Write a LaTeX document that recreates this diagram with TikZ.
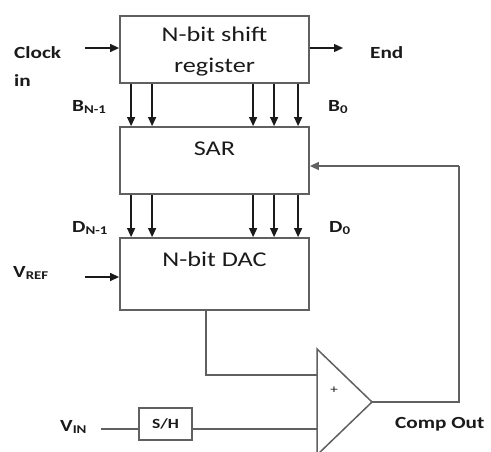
\documentclass[tikz,border=0pt]{standalone}
\usepackage{fontspec}
\setmainfont{Carlito}[FakeStretch=1.25]
\usetikzlibrary{arrows.meta,calc}
\definecolor{boxline}{HTML}{606060}
\definecolor{txt}{HTML}{1A1A1A}
\tikzset{
  blk/.style={draw=boxline,line width=1.8pt,rectangle,inner sep=0pt},
  arr/.style={draw=txt,line width=1.3pt,-{Triangle[length=9pt,width=8pt]}},
  wire/.style={draw=boxline,line width=1.8pt},
  boxtext/.style={font=\fontsize{21}{31}\selectfont,text=txt,align=center,inner sep=0pt},
  lbl/.style={font=\fontsize{17}{20}\selectfont\bfseries,text=txt,anchor=base west,inner sep=0pt},
}
\begin{document}
\begin{tikzpicture}[x=1pt,y=-1pt]
\useasboundingbox (0,0) rectangle (491,451);
\clip (0,0) rectangle (491,451);
% blocks
\node[blk,minimum width=189pt,minimum height=67pt] (sr) at (214.5,49.5) {};
\node[boxtext,anchor=base] (srt) at (214.5,72) {N-bit shift\\register};
\node[blk,minimum width=189pt,minimum height=67pt] (sar) at (214.5,160.5) {};
\node[boxtext,anchor=base] (sart) at (214.5,155) {SAR};
\node[blk,minimum width=189pt,minimum height=72pt] (dac) at (214.5,274) {};
\node[boxtext,anchor=base] (dact) at (214.5,266) {N-bit DAC};
\node[blk,line width=1.5pt,minimum width=53pt,minimum height=32pt,font=\fontsize{14}{16}\selectfont\bfseries,text=txt] (sh) at (165.5,424) {S/H};
% comparator
\coordinate (ctop) at (317,349);
\coordinate (cbot) at (317,455);
\coordinate (cout) at (372,402);
\coordinate (cin1) at (317,375);
\coordinate (cin2) at (317,429);
\draw[wire,line width=1.5pt,line join=miter] (ctop) -- (cout) -- (cbot) -- cycle;
\node[font=\fontsize{12}{12}\selectfont,text=txt] (plus) at (334,390) {+};
% bit arrows
\foreach \dx in {12,33,134,155,179}{
  \draw[arr] ($(sr.south west)+(\dx,0)$) -- ($(sar.north west)+(\dx,0)$);
  \draw[arr] ($(sar.south west)+(\dx,0)$) -- ($(dac.north west)+(\dx,0)$);
}
% inputs
\coordinate (clk) at (85,48);
\draw[arr] (clk) -- (clk -| sr.west);
\coordinate (endc) at (343,48);
\draw[arr] (endc -| sr.east) -- (endc);
\coordinate (vref) at (85,277);
\draw[arr] (vref) -- (vref -| dac.west);
% DAC to comparator
\draw[wire,line width=1.5pt] ($(dac.south west)+(87,0)$) |- (cin1);
% VIN
\coordinate (vin) at (101,429);
\draw[wire,line width=1.5pt] (vin) -- (vin -| sh.west);
\draw[wire,line width=1.5pt] (sh.east |- cin2) -- (cin2);
% feedback
\coordinate (fb) at (459,166);
\draw[wire,line width=1.5pt] (cout) -| (fb);
\draw[arr,draw=boxline,line width=1.5pt] (fb) -- (fb -| sar.east);
% labels
\node[lbl] (lclk) at (14,58) {Clock};
\node[lbl] (lin) at (14,86) {in};
\node[lbl] (lend) at (370,58) {End};
\node[lbl] (lbn) at (72,111) {B\textsubscript{N-1}};
\node[lbl] (lb0) at (328,111) {B\textsubscript{0}};
\node[lbl] (ldn) at (72,232) {D\textsubscript{N-1}};
\node[lbl] (ld0) at (329,232) {D\textsubscript{0}};
\node[lbl] (lvref) at (13,277) {V\textsubscript{REF}};
\node[lbl] (lvin) at (60,431) {V\textsubscript{IN}};
\node[lbl] (lco) at (395,428) {Comp Out};
\end{tikzpicture}
\end{document}
